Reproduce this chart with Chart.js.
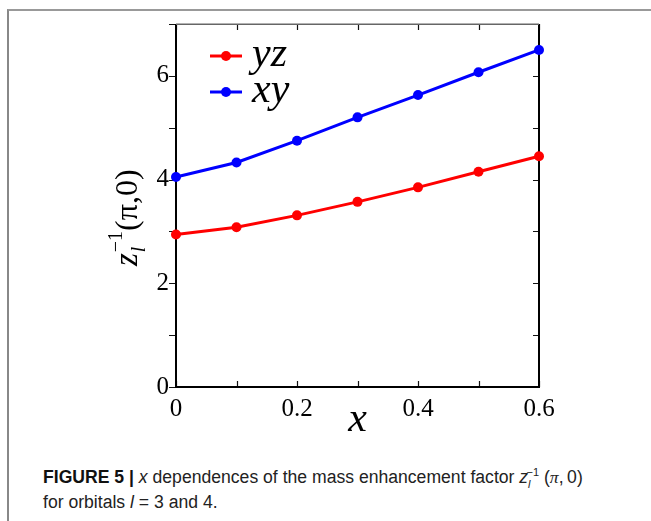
<!DOCTYPE html>
<html>
<head>
<meta charset="utf-8">
<script src="https://cdn.jsdelivr.net/npm/chart.js@4.4.1/dist/chart.umd.min.js"></script>
<style>
  html, body { margin: 0; padding: 0; background: #fff; }
  body { width: 651px; height: 521px; position: relative; overflow: hidden; }
  .frame { position: absolute; left: 7px; top: 9px; right: 0; bottom: 0;
           border-top: 2px solid #999; border-left: 2px solid #888; }
  .plot { position: absolute; left: 0; top: 0; width: 651px; height: 445px; }
  .caption { position: absolute; left: 43px; top: 465px; width: 600px;
             font-family: "Liberation Sans", Arial, sans-serif; font-size: 17.6px;
             line-height: 25px; color: #222; }
  .caption b { color: #111; }
  .caption sub, .caption sup { font-size: 11px; line-height: 0; }
  .caption .m { font-family: "Liberation Serif", serif; font-style: italic; }
</style>
</head>
<body>
<div class="frame"></div>
<div class="plot"><canvas id="fig"></canvas></div>
<div class="caption"><b>FIGURE 5 |</b> <i>x</i> dependences of the mass enhancement factor <i>z</i><sub><i>l</i></sub><sup style="margin-left:-4px">&minus;1</sup> (<span class="m">π</span>,&thinsp;0)<br>for orbitals <i>l</i> = 3 and 4.</div>
<script>
// doping values and mass enhancement per orbital
const dopings = [0, 0.1, 0.2, 0.3, 0.4, 0.5, 0.6];
const yzValues = [2.94, 3.08, 3.31, 3.57, 3.85, 4.15, 4.45];
const xyValues = [4.05, 4.33, 4.75, 5.20, 5.63, 6.07, 6.50];
const seriesNames = ['yz', 'xy'];
const xTicks = [0, 0.2, 0.4, 0.6];
const yTicks = [0, 2, 4, 6];

const serif = '"Liberation Serif", "DejaVu Serif", serif';

function points(vals) {
  return vals.map((v, i) => ({ x: dopings[i], y: v }));
}

// spines and minor ticks go under the lines
const frameTicks = {
  id: 'frameTicks',
  beforeDatasetsDraw(chart) {
    const { ctx, scales: { x, y } } = chart;
    const L = Math.round(chart.chartArea.left), R = Math.round(chart.chartArea.right);
    const T = Math.round(chart.chartArea.top), B = Math.round(chart.chartArea.bottom);
    ctx.save();
    ctx.strokeStyle = '#111';
    ctx.lineWidth = 1.2;
    ctx.beginPath();
    for (let v = 0; v <= 0.6001; v += 0.1) {
      const px = Math.round(x.getPixelForValue(v)) + 0.5;
      ctx.moveTo(px, B); ctx.lineTo(px, B - 6);
      ctx.moveTo(px, T); ctx.lineTo(px, T + 6);
    }
    for (let v = 0; v <= 7; v += 1) {
      const py = Math.round(y.getPixelForValue(v)) + 0.5;
      ctx.moveTo(L, py); ctx.lineTo(L - 7, py);
      ctx.moveTo(R, py); ctx.lineTo(R - 6, py);
    }
    ctx.stroke();

    ctx.lineWidth = 2;
    ctx.strokeStyle = '#000';
    ctx.beginPath();
    ctx.moveTo(L, T); ctx.lineTo(L, B); ctx.lineTo(R, B); ctx.lineTo(R, T);
    ctx.stroke();
    ctx.strokeStyle = '#666';
    ctx.lineWidth = 1.5;
    ctx.beginPath();
    ctx.moveTo(L, T + 0.25); ctx.lineTo(R, T + 0.25);
    ctx.stroke();
    ctx.restore();
  }
};

// legend and the y axis label
const labels = {
  id: 'labels',
  afterDraw(chart) {
    const { ctx } = chart;
    ctx.save();
    chart.data.datasets.forEach((ds, i) => {
      const ly = 56 + i * 36;
      ctx.strokeStyle = ds.borderColor;
      ctx.fillStyle = ds.borderColor;
      ctx.lineWidth = 3;
      ctx.beginPath();
      ctx.moveTo(210, ly); ctx.lineTo(242, ly);
      ctx.stroke();
      ctx.beginPath();
      ctx.arc(226, ly, 5, 0, Math.PI * 2);
      ctx.fill();
      ctx.fillStyle = '#000';
      ctx.font = 'italic 42px ' + serif;
      ctx.textBaseline = 'alphabetic';
      ctx.fillText(ds.label, 252, ly + 10);
    });

    // z_l^-1(pi,0), rotated
    ctx.translate(137, 266);
    ctx.rotate(-Math.PI / 2);
    ctx.fillStyle = '#000';
    let cx = 0;
    ctx.font = 'italic 33px ' + serif;
    ctx.fillText('z', cx, 0);
    cx += ctx.measureText('z').width + 1;
    ctx.font = 'italic 20px ' + serif;
    ctx.fillText('l', cx, 8);
    ctx.font = '20px ' + serif;
    ctx.fillText('\u22121', cx, -15);
    cx += ctx.measureText('\u22121').width;
    ctx.font = '32px ' + serif;
    ctx.fillText('(\u03c0,0)', cx, 0);
    ctx.restore();
  }
};

new Chart(document.getElementById('fig'), {
  type: 'line',
  data: {
    datasets: [
      { label: seriesNames[0], data: points(yzValues), borderColor: '#ff0000', backgroundColor: '#ff0000' },
      { label: seriesNames[1], data: points(xyValues), borderColor: '#0000ff', backgroundColor: '#0000ff' }
    ]
  },
  options: {
    responsive: true,
    maintainAspectRatio: false,
    animation: false,
    clip: false,
    datasets: {
      line: { borderWidth: 3, pointRadius: 5, pointHoverRadius: 5, pointBorderWidth: 0, tension: 0 }
    },
    layout: { padding: { top: 24, right: 112, left: 0, bottom: 0 } },
    plugins: { legend: { display: false }, tooltip: { enabled: false } },
    scales: {
      x: {
        type: 'linear', min: 0, max: 0.6,
        afterFit: s => { s.height = 58; },
        afterBuildTicks: s => { s.ticks = xTicks.map(v => ({ value: v })); },
        grid: { display: false, drawTicks: false },
        border: { display: false },
        ticks: {
          padding: 7, maxRotation: 0, color: '#000',
          font: { family: serif, size: 25 },
          callback: v => v === 0 ? '0' : v.toFixed(1)
        },
        title: {
          display: true, text: 'x', color: '#000',
          font: { family: serif, size: 42, style: 'italic' },
          padding: { top: -9, bottom: 0 }
        }
      },
      y: {
        min: 0, max: 7,
        afterFit: s => { s.width = 176; },
        afterBuildTicks: s => { s.ticks = yTicks.map(v => ({ value: v })); },
        grid: { display: false, drawTicks: false },
        border: { display: false },
        ticks: { padding: 7, color: '#000', font: { family: serif, size: 25 } }
      }
    }
  },
  plugins: [frameTicks, labels]
});
</script>
</body>
</html>
